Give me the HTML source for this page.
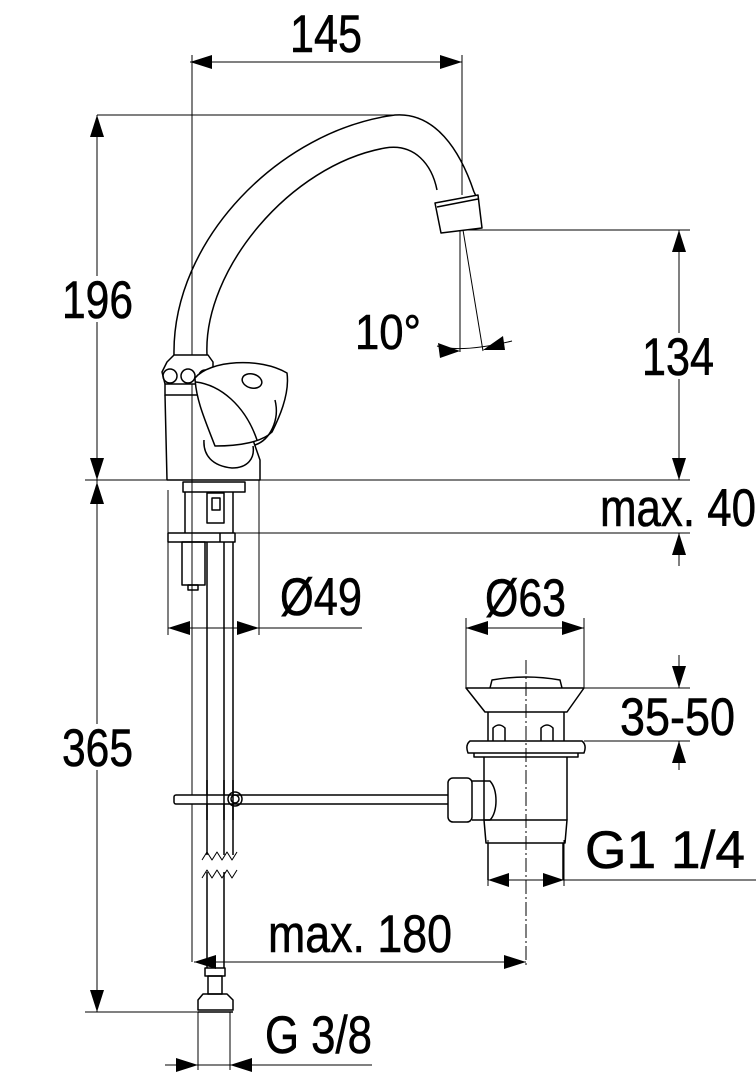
<!DOCTYPE html>
<html><head><meta charset="utf-8"><style>
html,body{margin:0;padding:0;background:#fff}
svg{display:block}
text{font-family:"Liberation Sans",sans-serif;fill:#000;stroke:#000;stroke-width:0.6}
</style></head><body>
<svg width="756" height="1080" viewBox="0 0 756 1080" xmlns="http://www.w3.org/2000/svg">
<g stroke="#000" fill="none" stroke-width="1">
<line x1="192" y1="55" x2="192" y2="962"/>
<line x1="462" y1="55" x2="462" y2="195"/>
<line x1="190" y1="62" x2="462" y2="62"/>
<line x1="97" y1="115" x2="400" y2="115"/>
<line x1="97" y1="115" x2="97" y2="1012"/>
<line x1="85" y1="480" x2="690" y2="480"/>
<line x1="85" y1="1012" x2="205" y2="1012"/>
<line x1="465" y1="230" x2="690" y2="230"/>
<line x1="679" y1="230" x2="679" y2="480"/>
<line x1="230" y1="533" x2="690" y2="533"/>
<line x1="679" y1="533" x2="679" y2="566"/>
<line x1="679" y1="455" x2="679" y2="480"/>
<line x1="460" y1="230" x2="460" y2="352"/>
<line x1="463" y1="230" x2="483" y2="351"/>
<path d="M437 346 Q462 353 512 341"/>
<line x1="168" y1="490" x2="168" y2="635"/>
<line x1="259" y1="480" x2="259" y2="635"/>
<line x1="168" y1="628" x2="362" y2="628"/>
<line x1="466" y1="618" x2="466" y2="688"/>
<line x1="584" y1="618" x2="584" y2="688"/>
<line x1="466" y1="628" x2="584" y2="628"/>
<line x1="584" y1="688" x2="690" y2="688"/>
<line x1="584" y1="741" x2="690" y2="741"/>
<line x1="679" y1="655" x2="679" y2="688"/>
<line x1="679" y1="741" x2="679" y2="770"/>
<line x1="488" y1="840" x2="488" y2="886"/>
<line x1="564" y1="840" x2="564" y2="886"/>
<line x1="488" y1="880" x2="756" y2="880"/>
<line x1="526" y1="660" x2="526" y2="968" stroke-dasharray="14 3 2 3"/>
<line x1="194" y1="962" x2="526" y2="962"/>
<line x1="198" y1="1012" x2="198" y2="1070"/>
<line x1="230" y1="1012" x2="230" y2="1070"/>
<line x1="165" y1="1065" x2="372" y2="1065"/>
</g>
<g fill="#fff">
<rect x="60" y="276" width="76" height="46"/>
<rect x="640" y="333" width="78" height="46"/>
<rect x="60" y="724" width="76" height="46"/>
</g>
<g fill="#000">
<polygon points="190,62 212,55 212,69"/>
<polygon points="462,62 440,55 440,69"/>
<polygon points="97,115 90,137 104,137"/>
<polygon points="97,480 90,458 104,458"/>
<polygon points="97,482 90,504 104,504"/>
<polygon points="97,1012 90,990 104,990"/>
<polygon points="679,230 672,252 686,252"/>
<polygon points="679,480 672,458 686,458"/>
<polygon points="679,533 672,555 686,555"/>
<polygon points="168,628 190,621 190,635"/>
<polygon points="259,628 237,621 237,635"/>
<polygon points="466,628 488,621 488,635"/>
<polygon points="584,628 562,621 562,635"/>
<polygon points="679,688 672,666 686,666"/>
<polygon points="679,741 672,763 686,763"/>
<polygon points="488,880 509,873 509,887"/>
<polygon points="564,880 543,873 543,887"/>
<polygon points="194,962 216,955 216,969"/>
<polygon points="526,962 504,955 504,969"/>
<polygon points="198,1065 176,1058 176,1072"/>
<polygon points="230,1065 252,1058 252,1072"/>
<polygon points="460,351 438,343 440,358"/>
<polygon points="483,350 503,336 505,350"/>
</g>
<g stroke="#000" fill="none" stroke-width="1.5" stroke-linejoin="round">
<path d="M174 355 C172 240 280 130 395 115 C435 112 460 150 474 192"/>
<path d="M207 355 C203 270 290 165 385 148 C415 143 432 165 437 190"/>
<path d="M474 192 L476 196"/>
<polygon points="435,203 478,195 482,228 441,233" fill="#fff"/>
<line x1="437" y1="207" x2="478" y2="199"/>
<path d="M174 355 L208 355 L213 362 L213 384 L165 384 L162 372 L167 362 Z" fill="#fff"/>
<circle cx="170" cy="376" r="7"/><circle cx="188" cy="376" r="7"/><circle cx="205" cy="376" r="6"/>
<path d="M165 384 L165 395 L200 395"/>
<path d="M165 395 L167 480 L260 480 L260 460 L253 440"/>
<path d="M195 378 C210 360 260 357 287 373 C290 395 278 420 272 432 C262 442 240 446 215 446 C205 420 196 400 195 378 Z" fill="#fff"/>
<path d="M196 382 C220 385 245 405 257 440"/>
<path d="M275 400 C280 420 270 440 255 445"/>
<path d="M204 440 C203 455 212 466 232 468 C248 468 255 458 253 446"/>
<ellipse cx="252" cy="381" rx="10" ry="7" transform="rotate(15 252 381)"/>
<rect x="183" y="482" width="62" height="10"/>
<path d="M185 492 L185 533 M233 492 L233 533"/>
<rect x="207" y="493" width="17" height="30"/>
<rect x="212" y="498" width="8" height="12"/>
<rect x="168" y="533" width="67" height="9"/>
<line x1="220" y1="533" x2="220" y2="542"/>
<rect x="182" y="542" width="23" height="43"/>
<rect x="188" y="585" width="10" height="5"/>
<path d="M207 542 L207 855 M224 542 L224 855 M233 542 L233 855"/>
<path d="M202 860 L207 852 L212 860 L217 852 L222 860 L227 852 L232 860 L237 852" stroke-width="1"/>
<path d="M202 878 L207 870 L212 878 L217 870 L222 878 L227 870 L232 878 L237 870" stroke-width="1"/>
<path d="M207 872 L207 968 M224 872 L224 968"/>
<rect x="205" y="968" width="20" height="8"/>
<rect x="208" y="976" width="14" height="18"/>
<path d="M198 1000 L203 994 L227 994 L233 1000 L233 1010 L198 1010 Z"/>
<line x1="198" y1="1012" x2="233" y2="1012"/>
<rect x="174" y="795" width="276" height="9" rx="2" fill="#fff"/>
<circle cx="235" cy="799" r="7"/><circle cx="235" cy="799" r="4"/>
<path d="M207 780 L207 820 M224 780 L224 820 M233 780 L233 820"/>
<rect x="448" y="778" width="24" height="44" rx="5" fill="#fff"/>
<path d="M472 781 L490 781 C498 790 498 812 490 820 L472 820"/>
<path d="M490 688 L492 680 Q526 674 560 680 L562 688"/>
<polygon points="466,688 584,688 567,712 485,712"/>
<path d="M488 712 L488 741 M564 712 L564 741"/>
<path d="M493 741 L493 728 Q499 722 505 728 L505 741"/>
<path d="M541 741 L541 728 Q547 722 553 728 L553 741"/>
<path d="M470 741 L582 741 Q587 745 584 753 L468 753 Q465 745 470 741 Z"/>
<path d="M474 753 L474 757 L578 757 L578 753"/>
<path d="M484 757 L484 820 M567 757 L567 820"/>
<path d="M484 820 L567 820 L565 843 L486 843 Z"/>
<path d="M488 843 L488 880 M563 843 L563 880"/>
</g>
<g font-size="53">
<text x="290" y="52" textLength="72" lengthAdjust="spacingAndGlyphs">145</text>
<text x="62" y="318" textLength="71" lengthAdjust="spacingAndGlyphs">196</text>
<text x="642" y="375" textLength="72" lengthAdjust="spacingAndGlyphs">134</text>
<text x="62" y="766" textLength="71" lengthAdjust="spacingAndGlyphs">365</text>
<text x="600" y="526" textLength="156" lengthAdjust="spacingAndGlyphs">max. 40</text>
<text x="280" y="615" textLength="82" lengthAdjust="spacingAndGlyphs">Ø49</text>
<text x="485" y="616" textLength="81" lengthAdjust="spacingAndGlyphs">Ø63</text>
<text x="620" y="735" textLength="115" lengthAdjust="spacingAndGlyphs">35-50</text>
<text x="585" y="868" textLength="160" lengthAdjust="spacingAndGlyphs">G1 1/4</text>
<text x="268" y="952" textLength="184" lengthAdjust="spacingAndGlyphs">max. 180</text>
<text x="265" y="1053" textLength="107" lengthAdjust="spacingAndGlyphs">G 3/8</text>
<text x="355" y="349" font-size="49" textLength="66" lengthAdjust="spacingAndGlyphs">10°</text>
</g>
</svg>
</body></html>
